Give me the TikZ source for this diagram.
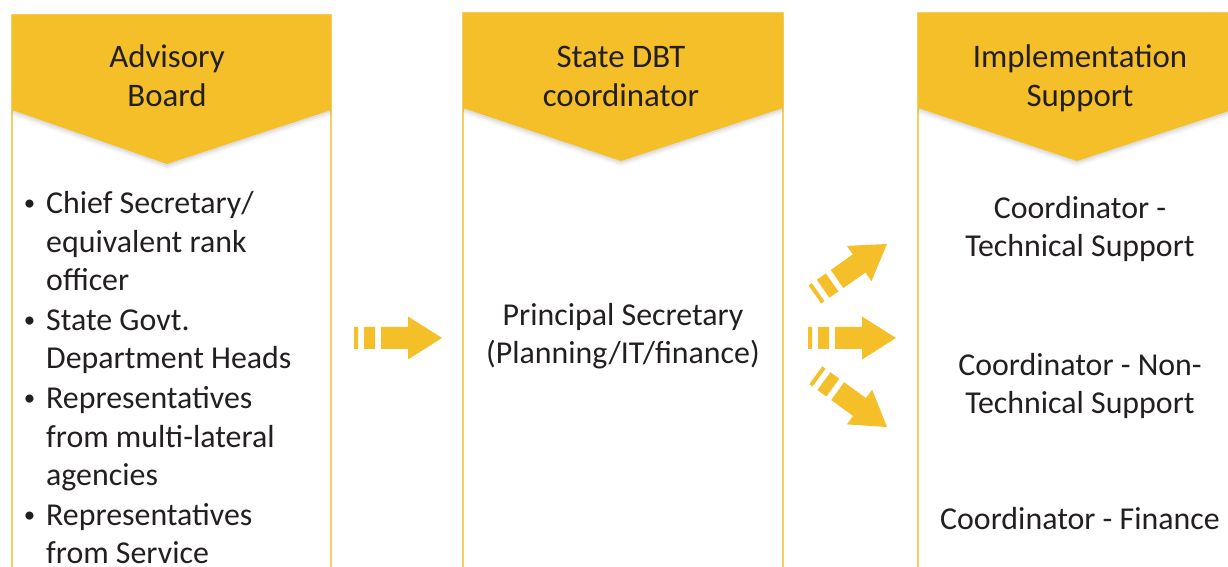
\documentclass[tikz,border=0pt]{standalone}
\usepackage{fontspec}
\setmainfont{Carlito}
\usetikzlibrary{shadows,calc}

\definecolor{hdryellow}{RGB}{245,191,41}
\definecolor{ruleyellow}{RGB}{247,206,100}
\definecolor{inkgray}{RGB}{35,31,32}
\newcommand{\listdot}{\llap{\raisebox{3bp}{\fontsize{23}{23}\selectfont\textbullet}\hspace{11bp}}}

\begin{document}
\begin{tikzpicture}[x=1bp,y=1bp,
                    header/.style={fill=hdryellow,
                      drop shadow={shadow xshift=0bp,shadow yshift=-2bp,opacity=.12},
                      drop shadow={shadow xshift=0bp,shadow yshift=-4bp,opacity=.10},
                      drop shadow={shadow xshift=0bp,shadow yshift=-6bp,opacity=.06}},
                    column/.style={draw=ruleyellow,line width=1.2bp},
                    head text/.style={text=inkgray,font=\fontsize{33}{40}\selectfont,align=center,anchor=base,inner sep=0pt},
                    body text/.style={text=inkgray,font=\fontsize{32}{38.5}\selectfont,align=center,anchor=base,inner sep=0pt},
                    list text/.style={text=inkgray,font=\fontsize{32}{39}\selectfont,align=left,anchor=base west,inner sep=0pt},
                    flow arrow/.pic={
                      \fill[hdryellow] (-88,-11) rectangle (-84,11) (-78,-11) rectangle (-67,11)
                        (-61,-11) -- (-34,-11) -- (-34,-21.5) -- (0,0) -- (-34,21.5) -- (-34,11) -- (-61,11) -- cycle;}
]
\useasboundingbox (0,0) rectangle (1228,567);
%
\draw[column] (12,-5) rectangle (331,552);
\draw[column] (463,-5) rectangle (783,554);
\draw[column] (918,-5) rectangle (1238,554);
%
\path[header] (12,552) -- (331,552) -- (331,457) -- (167,403) -- (12,457) -- cycle;
\path[header] (463,554) -- (783,554) -- (783,459) -- (621,406) -- (463,459) -- cycle;
\path[header] (918,554) -- (1238,554) -- (1238,459) -- (1077,406) -- (918,459) -- cycle;
%
\node[head text] (board) at (167,460) {Advisory\\Board};
\node[head text] (state) at (621,460) {State DBT\\coordinator};
\node[head text] (impl) at (1080,460) {Implementation\\Support};
%
\node[list text] (item1) at (46,276) {\listdot Chief Secretary/\\equivalent rank\\officer};
\node[list text] (item2) at ($(item1.base west)+(0,-78)$) {\listdot State Govt.\\Department Heads};
\node[list text] (item3) at ($(item2.base west)+(0,-117)$) {\listdot Representatives\\from multi-lateral\\agencies};
\node[list text] (item4) at ($(item3.base west)+(0,-78)$) {\listdot Representatives\\from Service};
%
\node[body text,font=\fontsize{32}{39}\selectfont] (princ) at (623,203) {Principal Secretary\\(Planning/IT/finance)};
%
\node[body text] (tech) at (1080,310) {Coordinator -\\Technical Support};
\node[body text] (nontech) at (1080,153) {Coordinator - Non-\\Technical Support};
\node[body text] (fin) at (1080,37) {Coordinator - Finance};
%
\pic at (442,229) {flow arrow};
\pic[rotate=35] at (887,323) {flow arrow};
\pic at (896,229) {flow arrow};
\pic[rotate=-36] at (887,140) {flow arrow};
\end{tikzpicture}
\end{document}
